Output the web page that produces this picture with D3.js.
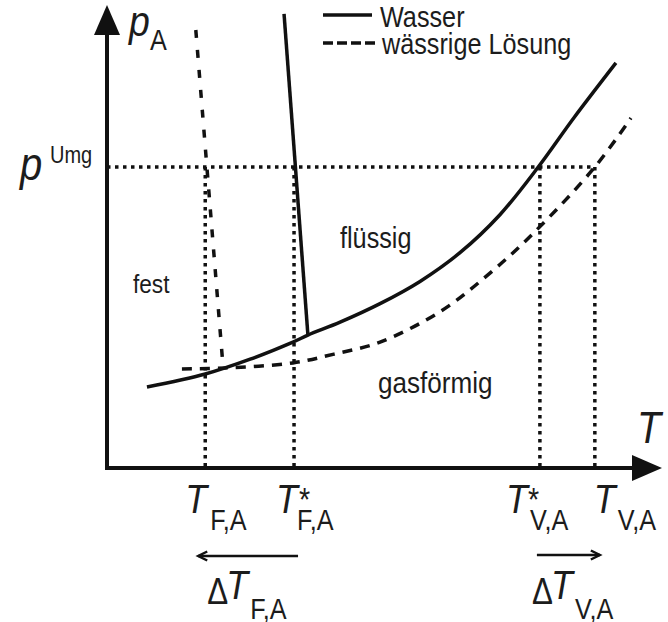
<html>
<head>
  <style>
    body { margin: 0; background: #fff; }
    svg text {
      font-family: "Liberation Sans", Arial, sans-serif;
      fill: #1c1c1c;
    }
    svg .curve {
      fill: none;
      stroke: #111;
      stroke-width: 3.5px;
      stroke-linejoin: round;
    }
    svg .guide {
      fill: none;
      stroke: #111;
      stroke-width: 3.5px;
      stroke-dasharray: 3.5, 4.5;
    }
    svg .axis {
      stroke: #111;
      stroke-width: 4px;
    }
  </style>
</head>

<body>
  <div id="chart"></div>
  <script src="https://d3js.org/d3.v7.min.js"></script>
  <script>
// phase diagram: pure water vs. aqueous solution (T in x, p in y, arbitrary units 0..100)
var waterVapour = [
  [7.2, 17.5], [17.7, 20.3], [25.8, 23.5], [33.5, 27.2], [36.2, 28.7],
  [42.0, 31.5], [49.2, 35.5], [56.4, 40.3], [63.6, 46.5], [70.8, 54.7],
  [77.7, 65.0], [84.1, 75.6], [91.7, 87.5]];
var waterMelting = [[31.9, 98.1], [36.2, 28.7]];

var solutionVapour = [
  [13.5, 21.4], [21.3, 21.6], [33.5, 22.7], [40.9, 24.6], [49.2, 27.2],
  [60.2, 33.9], [69.0, 42.1], [76.9, 50.8], [87.9, 65.0], [94.4, 75.6]];
var solutionMelting = [[16.0, 94.6], [20.9, 22.0]];

var pUmg = 65.0;
var tickValues = [17.7, 33.7, 78.0, 87.9];         // T_F,A  T*_F,A  T*_V,A  T_V,A
var tickSubs   = ["F,A", "F,A", "V,A", "V,A"];
var tickStars  = [false, true, true, false];
var legendNames = ["Wasser", "wässrige Lösung"];
var regionNames = ["fest", "flüssig", "gasförmig"];

(function () {
  var width = 668, height = 622;

  var svg = d3.select("#chart")
    .append("svg")
      .attr("width", width)
      .attr("height", height);

  var xScale = d3.scaleLinear().domain([0, 100]).range([107, 662]);
  var yScale = d3.scaleLinear().domain([0, 100]).range([468, 5]);

  var line = d3.line()
    .x(function (d) { return xScale(d[0]); })
    .y(function (d) { return yScale(d[1]); });
  var smooth = d3.line()
    .curve(d3.curveCatmullRom.alpha(0.5))
    .x(function (d) { return xScale(d[0]); })
    .y(function (d) { return yScale(d[1]); });

  // text in the original is a bit narrow: squeeze horizontally
  function put(x, y, str, size, italic) {
    return svg.append("text")
        .attr("transform", "translate(" + x + "," + y + ") scale(0.87,1)")
        .text(str)
        .style("font-size", size + "px")
        .style("font-style", italic ? "italic" : "normal");
  }

  // dotted guide lines
  svg.append("line")
      .classed("guide", true)
      .attr("x1", xScale(0)).attr("y1", yScale(pUmg))
      .attr("x2", xScale(tickValues[3])).attr("y2", yScale(pUmg));

  tickValues.forEach(function (t) {
    svg.append("line")
        .classed("guide", true)
        .attr("x1", xScale(t)).attr("y1", yScale(pUmg))
        .attr("x2", xScale(t)).attr("y2", yScale(0));
  });

  // curves
  svg.append("path").classed("curve", true)
      .attr("d", smooth(waterVapour));
  svg.append("path").classed("curve", true)
      .attr("d", line(waterMelting));
  svg.append("path").classed("curve", true)
      .attr("d", smooth(solutionVapour))
      .style("stroke-dasharray", "10, 8");
  svg.append("path").classed("curve", true)
      .attr("d", line(solutionMelting))
      .style("stroke-dasharray", "8, 12");

  // axes with arrow heads
  svg.append("line").classed("axis", true)
      .attr("x1", xScale(0)).attr("y1", yScale(0) + 2)
      .attr("x2", xScale(0)).attr("y2", yScale(100) + 25);
  svg.append("line").classed("axis", true)
      .attr("x1", xScale(0) - 2).attr("y1", yScale(0))
      .attr("x2", xScale(100) - 25).attr("y2", yScale(0));

  svg.append("path")
      .attr("d", "M" + xScale(0) + "," + yScale(100) +
                 " l13,30 l-26,0 Z")
      .style("fill", "#111");
  svg.append("path")
      .attr("d", "M" + xScale(100) + "," + yScale(0) +
                 " l-30,-13 l0,26 Z")
      .style("fill", "#111");

  // axis titles
  put(129, 36, "p", 43, true);
  put(150, 50, "A", 29);
  put(637, 443, "T", 45, true);
  put(20, yScale(pUmg) + 13, "p", 46, true);
  put(50, yScale(pUmg) - 4, "Umg", 23);

  // tick labels T under the axis
  var tOff    = [-20, -18, -34, -1];
  var subOff  = [5, 3, -10, 23];
  var starOff = [0, 5, -12, 0];

  tickValues.forEach(function (t, i) {
    var x = xScale(t);
    put(x + tOff[i], 513, "T", 41, true);
    put(x + subOff[i], 530, tickSubs[i], 29);
    if (tickStars[i]) {
      put(x + starOff[i], 511, "*", 33);
    }
  });

  // delta arrows
  function arrow(xFrom, xTo, y) {
    var dir = xTo > xFrom ? 1 : -1;
    svg.append("line")
        .attr("x1", xFrom).attr("y1", y)
        .attr("x2", xTo).attr("y2", y)
        .style("stroke", "#111")
        .style("stroke-width", "2.5px");
    svg.append("path")
        .attr("d", "M" + (xTo - dir * 9) + "," + (y - 4.5) +
                   " L" + xTo + "," + y +
                   " L" + (xTo - dir * 9) + "," + (y + 4.5))
        .style("fill", "none")
        .style("stroke", "#111")
        .style("stroke-width", "2.5px");
  }
  arrow(xScale(tickValues[1]) + 4, xScale(tickValues[0]) - 7, 556);
  arrow(xScale(tickValues[2]) - 3, xScale(tickValues[3]) + 5, 555);

  function deltaLabel(x0, sub) {
    put(x0, 604, "\u0394", 36);
    put(x0 + 19, 599, "T", 41, true);
    put(x0 + 43, 619, sub, 29);
  }
  deltaLabel(xScale(tickValues[0]) + 2, tickSubs[0]);
  deltaLabel(xScale(tickValues[2]) - 8, tickSubs[2]);

  // region names
  put(133, 293, regionNames[0], 26);
  put(340, 248, regionNames[1], 29);
  put(378, 393, regionNames[2], 30);

  // legend
  var legend = svg.append("g");
  legend.append("line")
      .attr("x1", 323).attr("y1", 15).attr("x2", 372).attr("y2", 15)
      .style("stroke", "#111").style("stroke-width", "3.5px");
  legend.append("line")
      .attr("x1", 323).attr("y1", 43).attr("x2", 375).attr("y2", 43)
      .style("stroke", "#111").style("stroke-width", "3.5px")
      .style("stroke-dasharray", "10, 4");
  put(380, 27, legendNames[0], 29);
  put(382, 54, legendNames[1], 29);
})();
  </script>
</body>
</html>
